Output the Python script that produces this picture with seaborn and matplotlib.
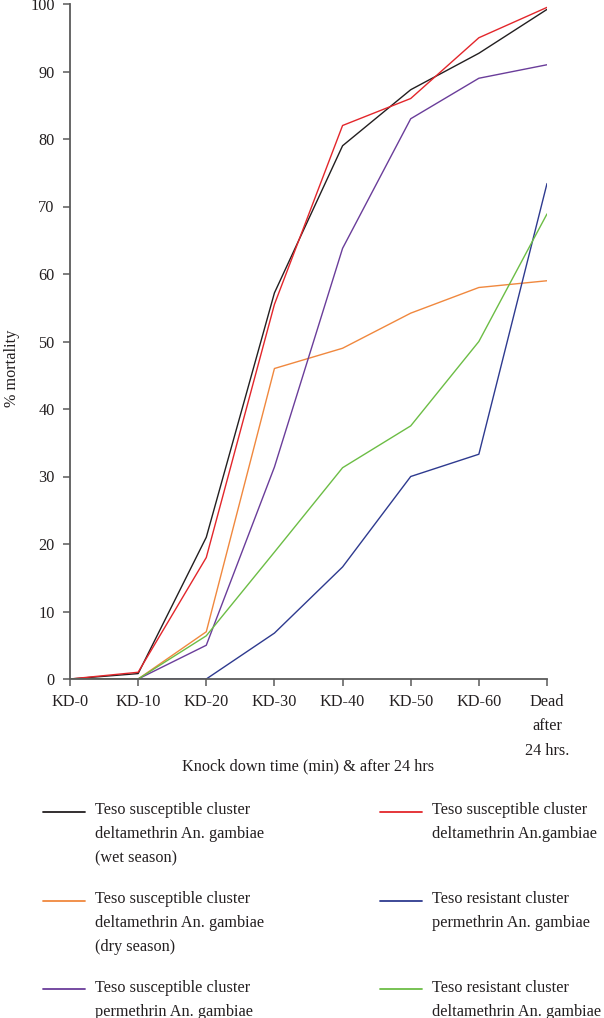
import numpy as np
import pandas as pd
import matplotlib.pyplot as plt
import seaborn as sns
from matplotlib.lines import Line2D
from matplotlib.legend_handler import HandlerLine2D

# categorias do eixo x
tempos = ["KD-0", "KD-10", "KD-20", "KD-30", "KD-40", "KD-50", "KD-60", "Dead\nafter\n24 hrs."]

# % mortalidade por grupo
delta_umida = [0, 0.8, 21, 57.2, 79, 87.3, 92.7, 99.2]
delta_susc = [0, 1.0, 18, 55.5, 82, 86, 95, 99.5]
delta_seca = [0, 0, 7, 46, 49, 54.2, 58, 59]
perm_susc = [0, 0, 5, 31.4, 63.8, 83, 89, 91]
perm_resist = [0, 0, 0, 6.8, 16.6, 30, 33.3, 73.4]
delta_resist = [0, 0, 6.4, 18.8, 31.3, 37.5, 50, 68.9]

rotulos = [
    "Teso susceptible cluster\ndeltamethrin An. gambiae\n(wet season)",
    "Teso susceptible cluster\ndeltamethrin An. gambiae\n(dry season)",
    "Teso susceptible cluster\npermethrin An. gambiae",
    "Teso susceptible cluster\ndeltamethrin An.gambiae\n",
    "Teso resistant cluster\npermethrin An. gambiae\n",
    "Teso resistant cluster\ndeltamethrin An. gambiae",
]
series = [delta_umida, delta_seca, perm_susc, delta_susc, perm_resist, delta_resist]
cores = ["#231f20", "#f0883e", "#6a3d9a", "#e3262b", "#2e3a8f", "#6cbd45"]

FONTE = 11.7
ESPACO = 1.68


class HandlerPrimeiraLinha(HandlerLine2D):
    """Coloca a linha da legenda na altura da primeira linha do texto."""

    def __init__(self, n_linhas, **kw):
        super().__init__(**kw)
        self.n_linhas = n_linhas

    def create_artists(self, legend, orig_handle, xdescent, ydescent, width, height, fontsize, trans):
        arts = super().create_artists(legend, orig_handle, xdescent, ydescent, width, height, fontsize, trans)
        passo = (0.7 * ESPACO + 0.217) * fontsize
        for a in arts:
            a.set_ydata(np.asarray(a.get_ydata()) + 0.5 * (self.n_linhas - 1) * passo)
        return arts


def main() -> None:
    sns.set_style("ticks")
    plt.rcParams["font.family"] = ["Liberation Serif", "DejaVu Serif"]
    plt.rcParams["font.size"] = FONTE

    linhas = []
    for rot, vals in zip(rotulos, series):
        for i, v in enumerate(vals):
            linhas.append({"grupo": rot, "pos": i, "mortalidade": v})
    df = pd.DataFrame(linhas)
    paleta = dict(zip(rotulos, cores))

    fig = plt.figure(figsize=(6.04, 10.18), dpi=100)
    ax = fig.add_axes([70 / 604, 1 - 679 / 1018, 477 / 604, 675 / 1018])

    sns.lineplot(data=df, x="pos", y="mortalidade", hue="grupo", palette=paleta,
                 hue_order=rotulos, sort=False, linewidth=1.0, legend=False, ax=ax)

    ax.set_xlim(0, len(tempos) - 1)
    ax.set_ylim(0, 100)
    ax.set_xticks(range(len(tempos)))
    ax.set_xticklabels(tempos)
    ax.set_yticks(np.arange(0, 101, 10))
    ax.xaxis.get_ticklabels()[-1].set_linespacing(ESPACO)
    ax.tick_params(axis="both", length=5, width=1.1, color="#5a5a5a", labelcolor="#231f20", labelsize=FONTE)
    ax.tick_params(axis="x", pad=6)
    ax.tick_params(axis="y", pad=6)
    sns.despine(ax=ax)
    for s in ["left", "bottom"]:
        ax.spines[s].set_color("#5a5a5a")
        ax.spines[s].set_linewidth(1.3)

    ax.set_xlabel("Knock down time (min) & after 24 hrs", fontsize=FONTE, color="#231f20")
    ax.xaxis.set_label_coords(0.5, -0.118)
    ax.set_ylabel("% mortality", fontsize=FONTE, color="#231f20")
    ax.yaxis.set_label_coords(-0.105, 0.46)

    # legenda em duas colunas separadas
    handles = [Line2D([], [], color=c, linewidth=1.3) for c in cores]
    for col, x0 in [(0, 35 / 604), (1, 372 / 604)]:
        idx = range(col * 3, col * 3 + 3)
        hs = [handles[i] for i in idx]
        ls = [rotulos[i] for i in idx]
        hmap = {h: HandlerPrimeiraLinha(l.count("\n") + 1) for h, l in zip(hs, ls)}
        leg = fig.legend(hs, ls, loc="upper left", bbox_to_anchor=(x0, 1 - 794 / 1018),
                         frameon=False, handlelength=2.55, handletextpad=0.65,
                         labelspacing=1.5, borderpad=0, handler_map=hmap, fontsize=FONTE)
        for t in leg.get_texts():
            t.set_linespacing(ESPACO)
            t.set_color("#231f20")

    fig.savefig("out.png", dpi=100)


if __name__ == '__main__':
    main()
